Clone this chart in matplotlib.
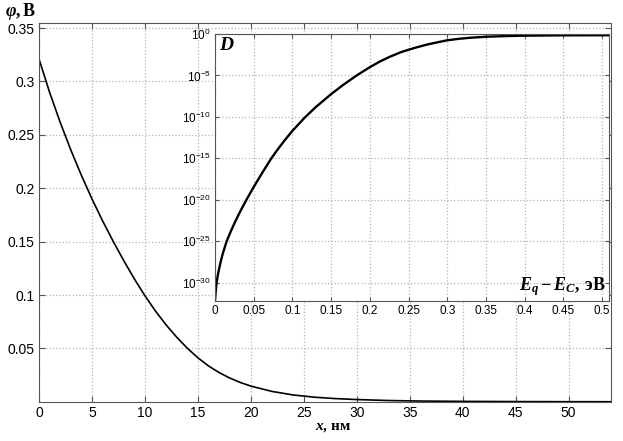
import matplotlib
matplotlib.use('Agg')
import matplotlib.pyplot as plt
import numpy as np

# данные основной кривой: потенциал phi(x)
x_nm = [0, 1, 2, 3, 4, 5, 6, 7, 8, 9, 10, 11, 12, 13, 14, 15, 16, 17, 18, 19,
        20, 22, 24, 26, 28, 30, 33, 36, 40, 45, 50, 54]
phi_v = [0.321, 0.2898, 0.2617, 0.2359, 0.2121, 0.1900, 0.1695, 0.1503,
         0.1322, 0.1151, 0.0993, 0.0849, 0.0720, 0.0605, 0.0502, 0.0412,
         0.0336, 0.0274, 0.0223, 0.0181, 0.0147, 0.0097, 0.0064, 0.0043,
         0.0030, 0.0021, 0.0012, 0.0007, 0.0004, 0.0002, 0.0001, 0.00006]

# данные вставки: D(Eq - Ec), показатель степени десяти
e_ev = [0, 0.001, 0.002, 0.004, 0.007, 0.010, 0.015, 0.020, 0.025, 0.030,
        0.035, 0.041, 0.050, 0.060, 0.072, 0.080, 0.090, 0.100, 0.116, 0.130,
        0.150, 0.165, 0.183, 0.200, 0.213, 0.225, 0.240, 0.250, 0.260, 0.275,
        0.290, 0.300, 0.315, 0.330, 0.350, 0.375, 0.400, 0.450, 0.510]
d_exp = [-32.1, -31.0, -30.0, -28.9, -27.6, -26.5, -25.0, -23.89, -22.85, -21.88,
         -20.97, -19.93, -18.45, -16.9, -15.1, -14.05, -12.82, -11.68, -10.07, -8.83,
         -7.25, -6.18, -5.0, -4.0, -3.32, -2.78, -2.2, -1.9, -1.62, -1.25,
         -0.95, -0.76, -0.58, -0.45, -0.33, -0.25, -0.2, -0.16, -0.15]

main_xticks = [0, 5, 10, 15, 20, 25, 30, 35, 40, 45, 50]
main_yticks = [0.05, 0.1, 0.15, 0.2, 0.25, 0.3, 0.35]
ins_xticks = [0, 0.05, 0.1, 0.15, 0.2, 0.25, 0.3, 0.35, 0.4, 0.45, 0.5]
ins_yexp = [0, -5, -10, -15, -20, -25, -30]

plt.rcParams['font.family'] = ['Liberation Sans', 'DejaVu Sans']
plt.rcParams['mathtext.fontset'] = 'custom'
plt.rcParams['mathtext.rm'] = 'Liberation Serif:bold'
plt.rcParams['mathtext.bf'] = 'Liberation Serif:bold'
plt.rcParams['mathtext.it'] = 'Liberation Serif:bold:italic'
plt.rcParams['mathtext.sf'] = 'Liberation Sans'

W, H = 623, 441
fig = plt.figure(figsize=(W / 100, H / 100), dpi=100)

grid_kw = dict(color='#b5b5b5', linestyle=':', linewidth=0.9)
spine_c = '#555555'

# основной график
ax = fig.add_axes([39 / W, 1 - 401.8 / H, 572 / W, (401.8 - 23) / H])
ax.plot(x_nm, phi_v, color='black', linewidth=1.2)
ax.set_xlim(0, 54)
ax.set_ylim(0, 0.3547)
ax.set_xticks(main_xticks)
ax.set_yticks(main_yticks)
ax.set_xticklabels([str(t) for t in main_xticks])
ax.set_yticklabels(['0.05', '0.1', '0.15', '0.2', '0.25', '0.3', '0.35'])
ax.grid(True, **grid_kw)
ax.tick_params(direction='in', top=True, right=True, length=4, width=0.8,
               color=spine_c, labelsize=10, pad=3)
for s in ax.spines.values():
    s.set_color(spine_c)
    s.set_linewidth(0.8)

# вставка
ins = fig.add_axes([215 / W, 1 - 301 / H, 394 / W, (301 - 34) / H])
d_vals = 10.0 ** np.array(d_exp)
ins.semilogy(e_ev, d_vals, color='black', linewidth=1.7)
ins.set_xlim(0, 0.509)
ins.set_ylim(10 ** -32.2, 1)
ins.set_xticks(ins_xticks)
ins.set_xticklabels(['0', '0.05', '0.1', '0.15', '0.2', '0.25', '0.3', '0.35',
                     '0.4', '0.45', '0.5'])
ins.set_yticks([10.0 ** k for k in ins_yexp])
ins.set_yticklabels(['$\\mathsf{10^{%d}}$' % k for k in ins_yexp])
ins.yaxis.set_minor_locator(matplotlib.ticker.NullLocator())
ins.grid(True, **grid_kw)
ins.tick_params(direction='in', top=True, right=True, length=3, width=0.8,
                color=spine_c, labelsize=8.5, pad=3)
for s in ins.spines.values():
    s.set_color(spine_c)
    s.set_linewidth(0.8)

# подписи осей
fig.text(5 / W, 1 - 12 / H, r'$\varphi\mathrm{,В}$', fontsize=13,
         va='center', ha='left')
fig.text(333 / W, 1 - 427 / H, r'$x\mathrm{,\,нм}$', fontsize=11,
         va='center', ha='center')
ins.text(0.01, 0.99, r'$D$', transform=ins.transAxes, fontsize=14,
         va='top', ha='left')
ins.text(0.99, 0.012, r'$E_q - E_C\mathrm{,\,эВ}$', transform=ins.transAxes,
         fontsize=13, va='bottom', ha='right')

fig.savefig('out.png', dpi=100)
